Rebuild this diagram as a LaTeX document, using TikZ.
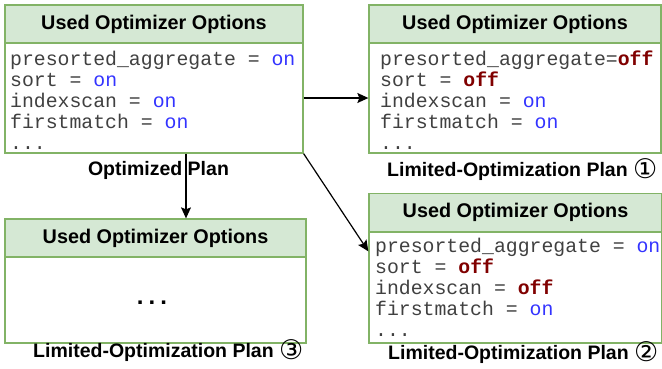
\documentclass[tikz,border=0pt]{standalone}
\usepackage{fontspec}
\setmainfont{Liberation Sans}
\newfontfamily\codefont{Liberation Mono}
\newfontfamily\circfont{DejaVu Sans}
\usetikzlibrary{arrows.meta}

\definecolor{optgreen}{HTML}{82B366}
\definecolor{optfill}{HTML}{D5E8D4}
\definecolor{onblue}{HTML}{3333FF}
\definecolor{offred}{HTML}{800000}

\newcommand{\optOn}{\textcolor{onblue}{on}}
\newcommand{\optOff}{\textcolor{offred}{\textbf{off}}}
% circled plan number, light weight and sitting a little low
\newcommand{\planNo}[1]{\raisebox{-2.5pt}{\circfont\mdseries\fontsize{27}{27}\selectfont #1}}

\tikzset{%
  opt head/.style={
    draw=optgreen,
    fill=optfill,
    line width=1.3pt,
    minimum height=38pt,
    inner sep=0pt,
    font=\fontsize{19.8}{22}\selectfont\bfseries
  },
  opt body/.style={
    draw=optgreen,
    line width=1.3pt,
    inner sep=0pt
  },
  code text/.style={
    anchor=north west,
    inner sep=0pt,
    align=left,
    text=black!75,
    font=\fontsize{19.8}{21}\selectfont\codefont
  },
  plan label/.style={
    anchor=base west,
    inner sep=0pt,
    font=\fontsize{19.5}{22}\selectfont\bfseries
  },
}

\begin{document}
\begin{tikzpicture}[x=1pt, y=-1pt, >={Stealth[length=11pt,width=10pt,inset=2pt]}]
\useasboundingbox (0,0) rectangle (662,368);

\foreach \b/\x/\y/\w in {optimized/154/24/298, limited-1/515/24/292,
                         limited-3/155.5/238/301, limited-2/515.5/212.5/293}
  \node [opt head, minimum width=\w pt] (\b-head) at (\x,\y) {Used Optimizer Options};

\node [opt body, minimum width=298pt, minimum height=110pt] (optimized) at (154,98) {};
\node [opt body, minimum width=292pt, minimum height=110pt] (limited-1) at (515,98) {};
\node [opt body, minimum width=301pt, minimum height=86pt] (limited-3) at (155.5,300) {};
\node [opt body, minimum width=293pt, minimum height=111pt] (limited-2) at (515.5,287.5) {};

\node [code text] (optimized-code) at (10,51)
  {presorted\_aggregate = \optOn\\ sort = \optOn\\ indexscan = \optOn\\ firstmatch = \optOn\\ ...};
\node [code text] (limited-1-code) at (380,51)
  {presorted\_aggregate=\optOff\\ sort = \optOff\\ indexscan = \optOn\\ firstmatch = \optOn\\ ...};
\node [code text] (limited-2-code) at (375,238)
  {presorted\_aggregate = \optOn\\ sort = \optOff\\ indexscan = \optOff\\ firstmatch = \optOn\\ ...};
\node [inner sep=0pt, font=\fontsize{24}{24}\selectfont\bfseries] (limited-3-dots) at (152,303)
  {.\kern5pt.\kern5pt.};

\node [plan label, anchor=base] (optimized-label) at (158.5,175) {Optimized Plan};
\node [plan label] (limited-1-label) at (387,176) {Limited-Optimization Plan \planNo{①}};
\node [plan label] (limited-2-label) at (388,359) {Limited-Optimization Plan \planNo{②}};
\node [plan label] (limited-3-label) at (33,357) {Limited-Optimization Plan \planNo{③}};

\draw [->, line width=1.2pt] (optimized) -- (limited-1);
\draw [->, line width=1.2pt] ([xshift=32pt]optimized.south) -- ([xshift=30.5pt]limited-3-head.north);
\draw [->, line width=1.2pt] (optimized.south east) -- ([yshift=-20pt]limited-2.north west);

\end{tikzpicture}
\end{document}
